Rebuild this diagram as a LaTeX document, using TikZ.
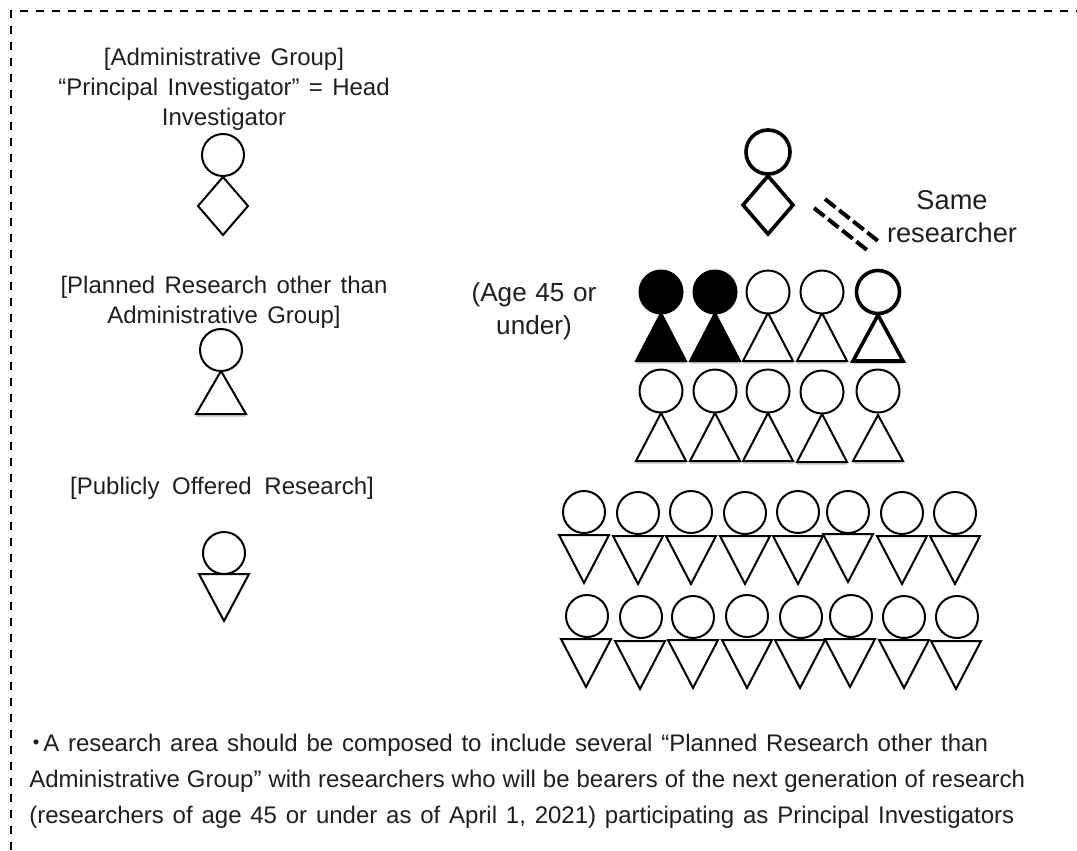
\documentclass[tikz,border=0pt]{standalone}
\usepackage{fontspec}
\setmainfont{Liberation Sans}
\newfontfamily\cjk{Noto Sans CJK JP}
\tikzset{
  x=0.75pt,y=-0.75pt,
  lbl/.style={inner sep=0pt,align=center,font=\fontsize{18}{22.5}\selectfont,text=black!88,execute at begin node={\spaceskip=7pt\relax}},
  biglbl/.style={inner sep=0pt,align=center,font=\fontsize{19.6}{24.7}\selectfont,text=black!88,execute at begin node={\spaceskip=6.5pt\relax}},
  bodyline/.style={inner sep=0pt,anchor=base west,font=\fontsize{18}{24}\selectfont,text=black!88},
  thinfig/.style={draw=black,line width=1.5pt,line join=miter,fill=white},
  thickfig/.style={draw=black,line width=2.7pt,line join=miter,fill=white},
  solidfig/.style={draw=black,line width=1.5pt,line join=miter,fill=black},
  soft/.style={draw=black!30,line width=1.5pt,opacity=.55},
  samedash/.style={draw=black,line width=3pt,dash pattern=on 10pt off 3.5pt},
}
% #1 style, #2 cx, #3 cy, #4 r
\newcommand{\headc}[4]{\draw[#1] (#2,#3) circle[radius=#4];}
% up triangle: #1 style, #2 cx, #3 apex y, #4 base y
\newcommand{\upt}[4]{%
  \draw[soft] ({#2-25},{#4+2}) -- ({#2+25},{#4+2});
  \draw[#1] (#2,#3) -- ({#2+25},#4) -- ({#2-25},#4) -- cycle;}
% down triangle: #1 cx, #2 top y, #3 apex y
\newcommand{\downt}[3]{%
  \draw[soft] ({#1-21},{#2+3}) -- ({#1+21},{#2+3});
  \draw[thinfig] ({#1-25},#2) -- ({#1+25},#2) -- (#1,#3) -- cycle;}
% diamond: #1 style, #2 cx, #3 top y, #4 bottom y
\newcommand{\dmd}[4]{\draw[#1] (#2,#3) -- ({#2+25},{(#3+#4)/2}) -- (#2,#4) -- ({#2-25},{(#3+#4)/2}) -- cycle;}
\begin{document}
\begin{tikzpicture}
\useasboundingbox (0,0) rectangle (1077,850);
\fill[white] (0,0) rectangle (1077,850);
% frame
\draw[black,line width=1.6pt,dash pattern=on 6pt off 6pt] (11,850) -- (11,11) -- (1077,11);
% left column
\node[lbl] (admin) at (224,89.5) {[Administrative Group]\\“Principal Investigator” = Head\\Investigator};
\headc{thinfig}{223}{155}{21}
\dmd{thinfig}{223}{177}{235}
\node[lbl] (planned) at (224,302) {[Planned Research other than\\Administrative Group]};
\upt{thinfig}{221}{371}{414}
\headc{thinfig}{221}{350}{21}
\node[lbl,execute at begin node={\spaceskip=9.5pt\relax}] (offered) at (222,488) {[Publicly Offered Research]};
\downt{224}{574}{621}
\headc{thinfig}{224}{553}{21}
% top right
\headc{thickfig}{768}{152}{22}
\dmd{thickfig}{768}{176}{234}
\draw[samedash] (825,199) -- (878,241);
\draw[samedash] (814,208) -- (867,250);
\node[biglbl,font=\fontsize{20.4}{24.7}\selectfont] (same) at (952,216.5) {Same\\researcher};
\node[biglbl] (age) at (534,311.5) {(Age 45 or\\under)};
% row 1
\upt{solidfig}{661}{313}{361}\headc{solidfig}{661}{292}{21.5}
\upt{solidfig}{715}{313}{361}\headc{solidfig}{715}{292}{21.5}
\upt{thinfig}{768}{313}{361}\headc{thinfig}{768}{292}{21.5}
\upt{thinfig}{822}{313}{361}\headc{thinfig}{822}{292}{21.5}
\upt{thickfig}{878}{315}{361}\headc{thickfig}{878}{292}{21.5}
% row 2
\upt{thinfig}{661}{413}{461}\headc{thinfig}{661}{391}{21.5}
\upt{thinfig}{715}{413}{461}\headc{thinfig}{715}{391}{21.5}
\upt{thinfig}{768}{413}{461}\headc{thinfig}{768}{391}{21.5}
\upt{thinfig}{822}{414}{462}\headc{thinfig}{822}{392}{21.5}
\upt{thinfig}{878}{415}{461}\headc{thinfig}{878}{391}{21.5}
% row 3
\foreach \cx/\tx/\cy/\ty in {584/584/512/535,638/638/513/536,691/691/512/536,745/745/513/536,798/798/512/536,848/848/512/534,902/902/513/536,955/955/513/536}{
  \downt{\tx}{\ty}{\ty+48}
  \headc{thinfig}{\cx}{\cy}{21}
}
% row 4
\foreach \cx/\tx/\cy/\ty in {587/586/616/639,641/640/617/641,693/693/617/640,747/747/616/640,801/800/617/640,851/850/616/639,904/904/617/640,957/956/617/641}{
  \downt{\tx}{\ty}{\ty+48}
  \headc{thinfig}{\cx}{\cy}{21}
}
% bottom text
\node[bodyline] (l1) at (24,751) {\spaceskip=6.6pt {\cjk ・}\kern-3.75pt A research area should be composed to include several “Planned Research other than};
\node[bodyline] (l2) at (29,787) {\spaceskip=5.2pt Administrative Group” with researchers who will be bearers of the next generation of research};
\node[bodyline] (l3) at (29,823) {\spaceskip=6.6pt (researchers of age 45 or under as of April 1, 2021) participating as Principal Investigators};
\end{tikzpicture}
\end{document}
